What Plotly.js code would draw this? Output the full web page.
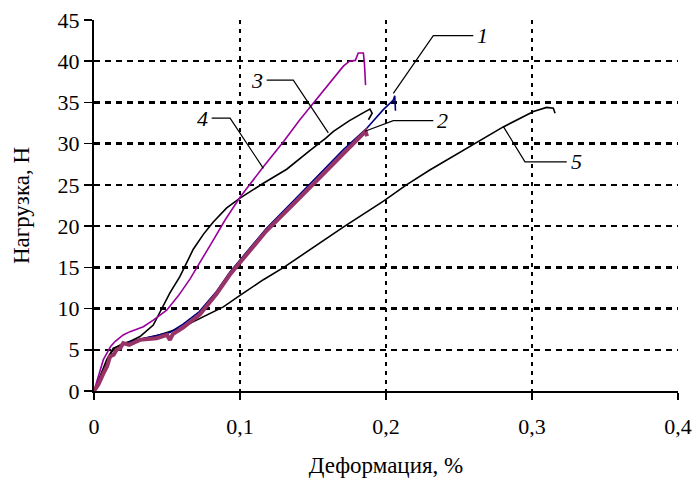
<!DOCTYPE html>
<html>
<head>
<meta charset="utf-8">
<script src="https://cdn.plot.ly/plotly-3.0.1.min.js"></script>
<style>html,body{margin:0;padding:0;background:#fff;}#chart{width:694px;height:482px;}</style>
</head>
<body>
<div id="chart"></div>
<script>
// Curve 1 (blue)
var x1 = [0,0.004,0.008,0.012,0.016,0.022,0.032,0.043,0.052,0.061,0.072,0.084,0.093,0.1,0.118,0.139,0.159,0.171,0.187,0.198,0.205,0.206,0.2065];
var y1 = [0,1.2,2.8,4.3,5.1,5.8,6.3,6.7,7.1,8.1,9.6,12.1,14.4,15.9,19.7,23.5,27.1,29.3,31.9,34.1,35.3,35.8,34.0];
// Curve 2 (maroon, thick)
var x2 = [0,0.003,0.0064,0.009,0.011,0.0135,0.0155,0.018,0.02,0.024,0.0315,0.043,0.05,0.052,0.054,0.061,0.0726,0.084,0.093,0.1,0.118,0.139,0.159,0.175,0.186,0.187];
var y2 = [0,0.8,2.1,3.0,4.2,4.4,5.0,5.2,5.8,5.6,6.2,6.4,6.8,6.2,6.9,7.7,9.3,11.8,14.1,15.6,19.4,23.1,26.7,29.6,31.5,30.9];
// Curve 3 (black)
var x3 = [0,0.002,0.0087,0.0132,0.02,0.0315,0.0406,0.0452,0.052,0.0589,0.0635,0.068,0.0749,0.0817,0.0909,0.1,0.116,0.132,0.148,0.159,0.164,0.175,0.184,0.189,0.1905,0.188];
var y3 = [0,0.8,3.8,5.2,5.6,6.6,8.0,9.6,11.9,13.9,15.5,17.2,19.0,20.5,22.2,23.4,25.2,26.9,29.2,30.7,31.5,32.8,33.7,34.2,33.7,32.9];
// Curve 4 (purple)
var x4 = [0,0.003,0.0064,0.0114,0.0144,0.02,0.0247,0.0338,0.0406,0.0498,0.058,0.0658,0.0703,0.0817,0.09,0.1,0.116,0.13,0.141,0.155,0.1708,0.175,0.179,0.181,0.1845,0.1852,0.186];
var y4 = [0,1.8,3.8,5.4,6.0,6.8,7.2,7.8,8.6,9.8,11.6,13.6,14.9,18.3,20.8,23.5,27.2,30.3,32.9,36.0,39.4,40.0,40.1,41.0,41.0,39.8,37.1];
// Curve 5 (black)
var x5 = [0,0.003,0.008,0.012,0.015,0.02,0.03,0.043,0.0589,0.0726,0.0886,0.1,0.116,0.13,0.159,0.171,0.198,0.214,0.23,0.253,0.28,0.301,0.31,0.3146,0.3158];
var y5 = [0,1.2,3.3,4.7,5.3,5.8,6.2,6.7,7.6,8.8,10.2,11.6,13.5,15.0,18.5,19.9,23.0,25.0,26.8,29.2,32.0,33.9,34.4,34.3,33.7];

// Leader lines for labels
var leadNames = ['1','2','3','4','5'];
var leadX = [[0.205,0.2324,0.2598],[0.1856,0.205,0.2324],[0.1605,0.1365,0.1183],[0.116,0.0932,0.0806],[0.2803,0.2952,0.3238]];
var leadY = [[36.1,43.1,43.1],[31.5,32.8,32.8],[31.3,37.7,37.7],[27.0,33.1,33.1],[32.1,27.8,27.8]];
var labelAnchor = ['left','left','right','right','left'];

var xTickVals = [0,0.1,0.2,0.3,0.4];
var xTickText = ['0','0,1','0,2','0,3','0,4'];
var yTickVals = [0,5,10,15,20,25,30,35,40,45];
var yTickText = ['0','5','10','15','20','25','30','35','40','45'];

var FONT = 'Liberation Serif, Times New Roman, serif';

var traces = [];
traces.push({x:x5,y:y5,mode:'lines',line:{color:'#000000',width:1.6},hoverinfo:'skip'});
traces.push({x:x3,y:y3,mode:'lines',line:{color:'#000000',width:1.6},hoverinfo:'skip'});
traces.push({x:x4,y:y4,mode:'lines',line:{color:'#990099',width:1.6},hoverinfo:'skip'});
traces.push({x:x1,y:y1,mode:'lines',line:{color:'#000080',width:1.6},hoverinfo:'skip'});
traces.push({x:x2,y:y2,mode:'lines',line:{color:'#993366',width:4},hoverinfo:'skip'});
for (var i=0;i<leadX.length;i++){
  traces.push({x:leadX[i],y:leadY[i],mode:'lines',line:{color:'#000000',width:1.2},hoverinfo:'skip'});
}

var annotations = [];
for (var j=0;j<leadNames.length;j++){
  var n = leadX[j].length-1;
  annotations.push({
    x: leadX[j][n], y: leadY[j][n], xref:'x', yref:'y',
    text: leadNames[j], showarrow:false,
    xanchor: labelAnchor[j], yanchor:'middle',
    xshift: labelAnchor[j]==='left'?2:-2,
    font:{family:FONT,size:22,color:'#000',style:'italic'}
  });
}

var layout = {
  width:694, height:482,
  margin:{l:94,r:16,t:20,b:91,pad:0},
  paper_bgcolor:'#fff', plot_bgcolor:'#fff',
  showlegend:false,
  font:{family:FONT,size:22,color:'#000'},
  xaxis:{
    range:[0,0.4], tickvals:xTickVals, ticktext:xTickText,
    tickfont:{family:FONT,size:22},
    showline:true, linecolor:'#000', linewidth:2,
    ticks:'outside', ticklen:7, tickwidth:1.5, tickcolor:'#000',
    showgrid:true, gridcolor:'#000', gridwidth:2.5, griddash:'4px,5px',
    zeroline:false, ticklabelstandoff:8,
    title:{text:'Деформация, %', font:{family:FONT,size:23}, standoff:18}
  },
  yaxis:{
    range:[0,45], tickvals:yTickVals, ticktext:yTickText,
    tickfont:{family:FONT,size:22},
    showline:true, linecolor:'#000', linewidth:2,
    ticks:'outside', ticklen:8, tickwidth:1.5, tickcolor:'#000',
    showgrid:true, gridcolor:'#000', gridwidth:2.5, griddash:'6px,5px',
    zeroline:false,
    title:{text:'Нагрузка, Н', font:{family:FONT,size:23}, standoff:22}
  },
  annotations: annotations
};

Plotly.newPlot('chart', traces, layout, {staticPlot:true, displayModeBar:false});
</script>
</body>
</html>
